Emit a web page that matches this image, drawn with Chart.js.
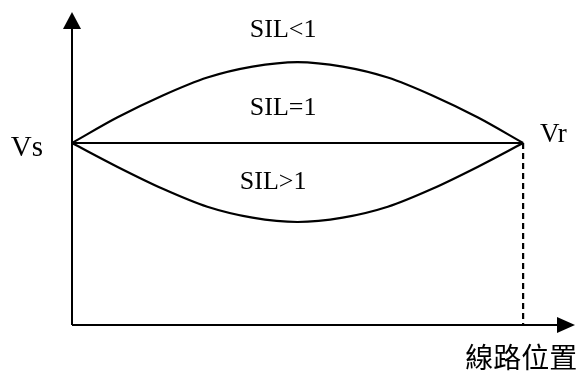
<!DOCTYPE html>
<html>
<head>
<meta charset="utf-8">
<script src="https://cdn.jsdelivr.net/npm/chart.js@4/dist/chart.umd.min.js"></script>
<style>
  html, body { margin: 0; padding: 0; background: #fff; }
  #wrap { width: 580px; height: 372px; }
</style>
</head>
<body>
<div id="wrap"><canvas id="chart" width="580" height="372"></canvas></div>
<script>
// line position (0 = sending end, 1 = receiving end)
const positions = [0, 0.1, 0.2, 0.3, 0.4, 0.5, 0.6, 0.7, 0.8, 0.9, 1];
// voltage along the line, Vs = 1
const silBelow = [1, 1.14, 1.26, 1.36, 1.42, 1.445, 1.42, 1.36, 1.26, 1.14, 1];
const silEqual = [1, 1, 1, 1, 1, 1, 1, 1, 1, 1, 1];
const silAbove = [1, 0.87, 0.75, 0.65, 0.59, 0.566, 0.59, 0.65, 0.75, 0.87, 1];
const receivingEnd = [{ x: 1, y: 1 }, { x: 1, y: 0 }];

const labelTexts = ['SIL<1', 'SIL=1', 'SIL>1', 'Vs', 'Vr', '線路位置'];
const labelX = [0.468, 0.468, 0.446, -0.1, 1.067, 0.996];
const labelY = [1.62, 1.19, 0.786, 0.973, 1.044, -0.176];
const labelFonts = [
  '26px "Liberation Serif"', '26px "Liberation Serif"', '26px "Liberation Serif"',
  '29px "Liberation Serif"', '27px "Liberation Serif"', '28px "Noto Sans CJK TC"'
];

const toPoints = (vals) => vals.map((v, i) => ({ x: positions[i], y: v }));

const axesAndLabels = {
  id: 'axesAndLabels',
  afterDatasetsDraw(chart) {
    const { ctx, chartArea, scales } = chart;
    const x0 = scales.x.getPixelForValue(0);
    const y0 = scales.y.getPixelForValue(0);
    ctx.save();
    ctx.strokeStyle = '#000';
    ctx.fillStyle = '#000';
    ctx.lineWidth = 2;
    // axes
    ctx.beginPath();
    ctx.moveTo(x0, y0);
    ctx.lineTo(x0, chartArea.top + 14);
    ctx.moveTo(x0, y0);
    ctx.lineTo(chartArea.right - 16, y0);
    ctx.stroke();
    // arrow heads
    ctx.beginPath();
    ctx.moveTo(x0, chartArea.top);
    ctx.lineTo(x0 - 9, chartArea.top + 17);
    ctx.lineTo(x0 + 9, chartArea.top + 17);
    ctx.closePath();
    ctx.fill();
    ctx.beginPath();
    ctx.moveTo(chartArea.right, y0);
    ctx.lineTo(chartArea.right - 18, y0 - 8);
    ctx.lineTo(chartArea.right - 18, y0 + 8);
    ctx.closePath();
    ctx.fill();
    // labels
    ctx.textAlign = 'center';
    ctx.textBaseline = 'middle';
    labelTexts.forEach((t, i) => {
      ctx.font = labelFonts[i];
      ctx.fillText(t, scales.x.getPixelForValue(labelX[i]), scales.y.getPixelForValue(labelY[i]));
    });
    ctx.restore();
  }
};

const lineStyle = {
  borderColor: '#000',
  borderWidth: 2.2,
  pointRadius: 0,
  fill: false,
  clip: false
};

new Chart(document.getElementById('chart'), {
  type: 'scatter',
  data: {
    datasets: [
      { ...lineStyle, label: 'SIL<1', data: toPoints(silBelow), showLine: true, cubicInterpolationMode: 'monotone' },
      { ...lineStyle, label: 'SIL=1', data: toPoints(silEqual), showLine: true },
      { ...lineStyle, label: 'SIL>1', data: toPoints(silAbove), showLine: true, cubicInterpolationMode: 'monotone' },
      { ...lineStyle, label: 'Vr', data: receivingEnd, showLine: true, borderDash: [6, 4] }
    ]
  },
  options: {
    responsive: false,
    animation: false,
    events: [],
    layout: { padding: { left: 72, right: 5, top: 12, bottom: 47 } },
    plugins: { legend: { display: false }, tooltip: { enabled: false } },
    scales: {
      x: { type: 'linear', min: 0, max: 1.115, display: false },
      y: { type: 'linear', min: 0, max: 1.72, display: false }
    }
  },
  plugins: [axesAndLabels]
});
</script>
</body>
</html>
